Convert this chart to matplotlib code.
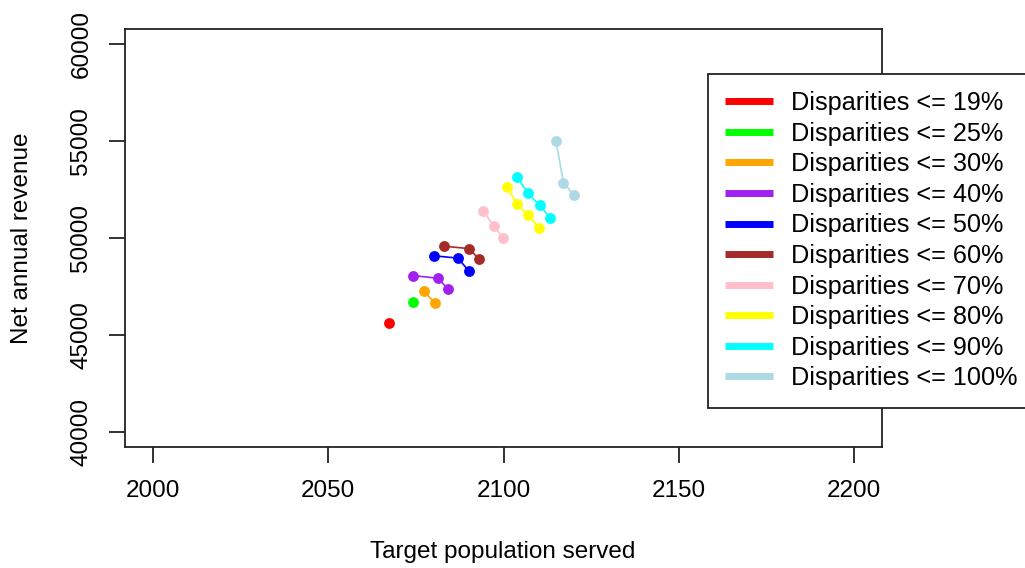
import matplotlib
matplotlib.use("Agg")
import matplotlib.pyplot as plt
from matplotlib.lines import Line2D

plt.rcParams['font.family'] = ['Liberation Sans', 'DejaVu Sans']

labels = ["Disparities <= 19%", "Disparities <= 25%", "Disparities <= 30%",
          "Disparities <= 40%", "Disparities <= 50%", "Disparities <= 60%",
          "Disparities <= 70%", "Disparities <= 80%", "Disparities <= 90%",
          "Disparities <= 100%"]
colors = ["#FF0000", "#00FF00", "#FFA500", "#A020F0", "#0000FF",
          "#A52A2A", "#FFC0CB", "#FFFF00", "#00FFFF", "#ADD8E6"]

x_d19 = [2067.4]
y_d19 = [45600]
x_d25 = [2074.1]
y_d25 = [46700]
x_d30 = [2077.2, 2080.4]
y_d30 = [47260, 46650]
x_d40 = [2074.1, 2081.3, 2084.3]
y_d40 = [48060, 47920, 47350]
x_d50 = [2080.2, 2087.0, 2090.1]
y_d50 = [49080, 48960, 48300]
x_d60 = [2082.9, 2090.2, 2093.1]
y_d60 = [49580, 49450, 48890]
x_d70 = [2094.2, 2097.2, 2099.9]
y_d70 = [51410, 50630, 50000]
x_d80 = [2101.0, 2103.9, 2107.0, 2110.2]
y_d80 = [52650, 51750, 51170, 50530]
x_d90 = [2103.9, 2107.0, 2110.3, 2113.4]
y_d90 = [53150, 52310, 51680, 51040]
x_d100 = [2115.0, 2117.1, 2120.0]
y_d100 = [54990, 52860, 52230]

series_x = [x_d19, x_d25, x_d30, x_d40, x_d50, x_d60, x_d70, x_d80, x_d90, x_d100]
series_y = [y_d19, y_d25, y_d30, y_d40, y_d50, y_d60, y_d70, y_d80, y_d90, y_d100]

x_ticks = [2000, 2050, 2100, 2150, 2200]
y_ticks = [40000, 45000, 50000, 55000, 60000]

W, H = 1025, 568
fig = plt.figure(figsize=(W / 100, H / 100), dpi=100)
ax = fig.add_axes([125 / W, 1 - 447 / H, (882 - 125) / W, (447 - 29) / H])

for xs, ys, c in zip(series_x, series_y, colors):
    ax.plot(xs, ys, color=c, lw=1.2, marker='o', markersize=7.8,
            markeredgewidth=0, zorder=3)

ax.set_xlim(1992, 2208)
ax.set_ylim(39200, 60800)
ax.set_xticks(x_ticks)
ax.set_yticks(y_ticks)
ax.set_xticklabels([str(v) for v in x_ticks])
ax.set_yticklabels([str(v) for v in y_ticks])
for lbl in ax.get_yticklabels():
    lbl.set_rotation(90)
    lbl.set_va('center')

fs = 17.5
ax.tick_params(axis='both', direction='out', length=11.5, width=1.3,
               labelsize=fs, pad=12, color='#222222')
for sp in ax.spines.values():
    sp.set_linewidth(1.3)
    sp.set_color('#222222')

fig.text(503 / W, 1 - 552 / H, "Target population served", ha='center',
         va='center', fontsize=fs)
fig.text(22 / W, 1 - 238 / H, "Net annual revenue", ha='center',
         va='center', rotation=90, fontsize=fs)

lfs = 18.2
handles = [Line2D([0], [0], color=c, lw=5, solid_capstyle='butt') for c in colors]
leg = fig.legend(handles, labels, loc='upper left',
                 bbox_to_anchor=(708 / W, 1 - 74 / H),
                 bbox_transform=fig.transFigure, borderaxespad=0,
                 fontsize=lfs, frameon=True, fancybox=False, framealpha=1,
                 edgecolor='#222222', borderpad=0.68, labelspacing=0.26,
                 handlelength=1.9, handletextpad=0.72)
leg.get_frame().set_linewidth(1.3)

fig.savefig("out.png", dpi=100)
